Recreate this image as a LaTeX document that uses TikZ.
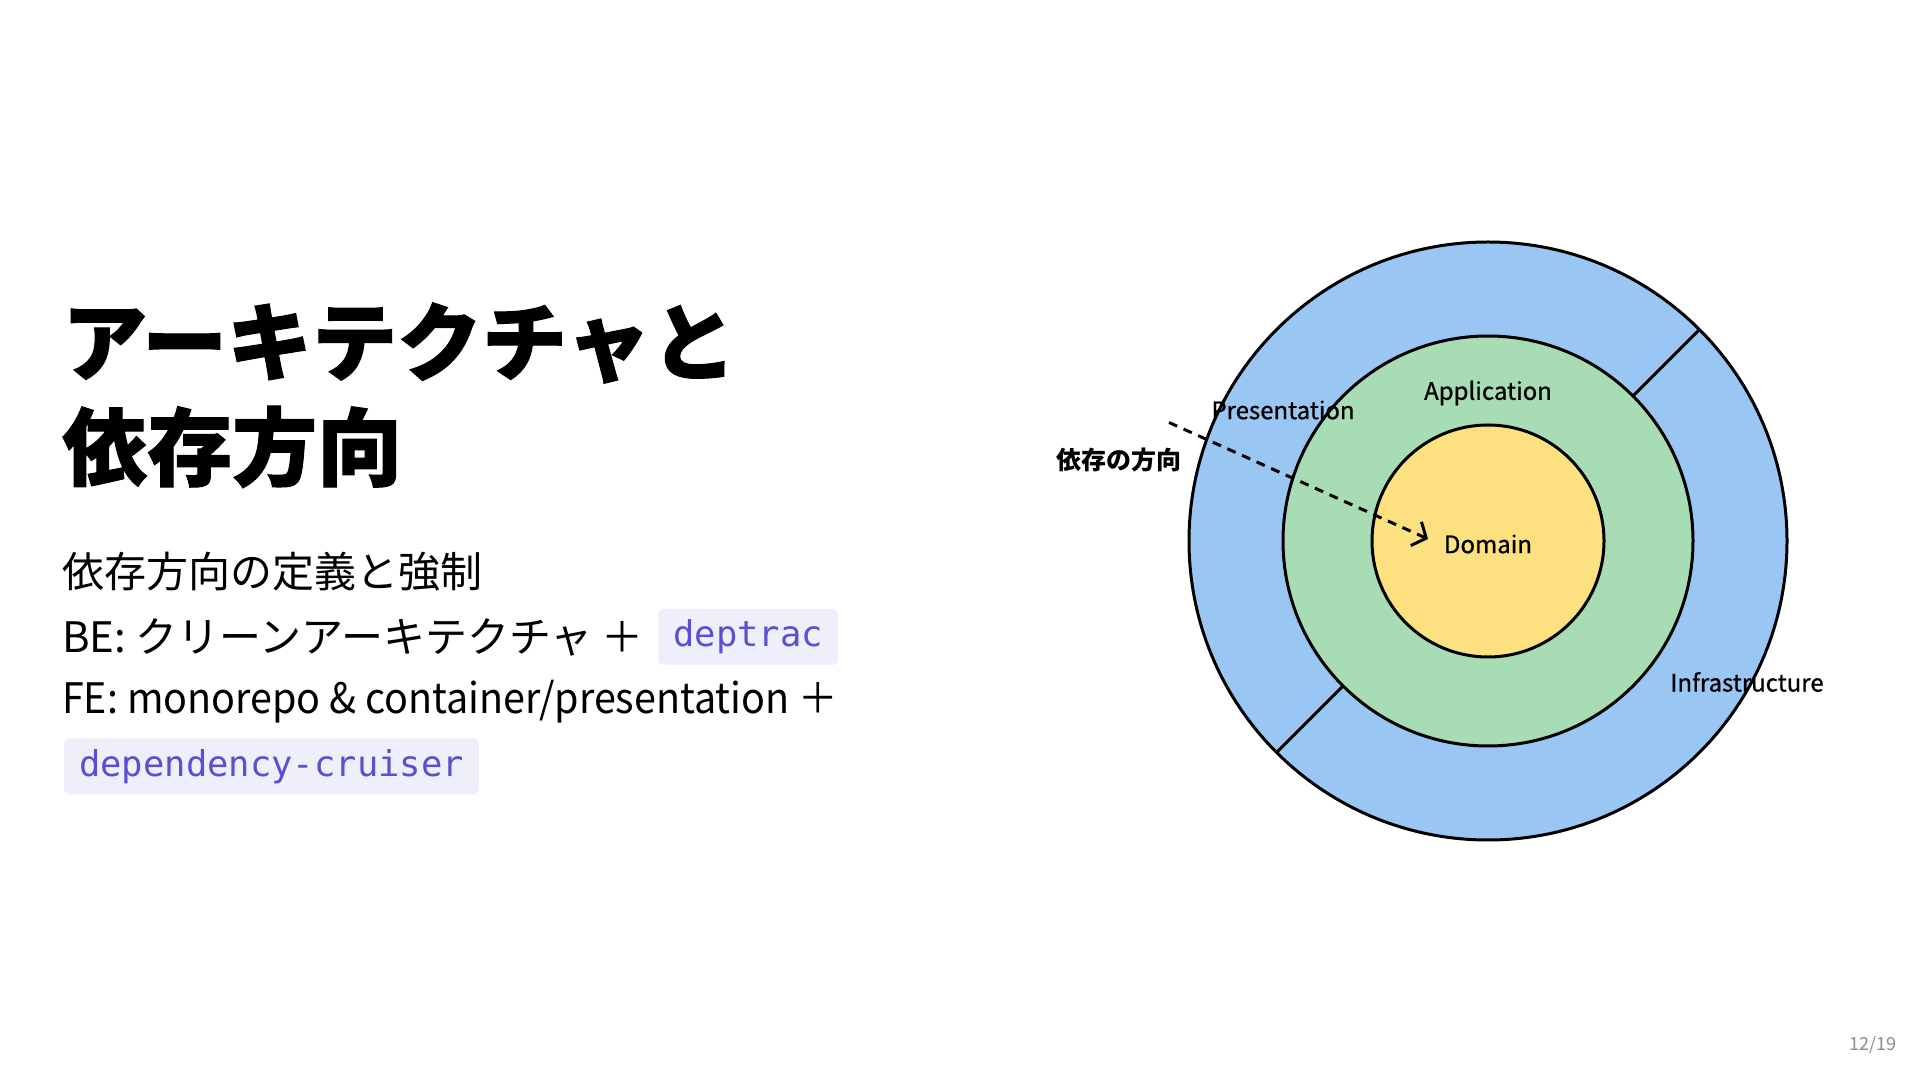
\documentclass[tikz,border=0pt]{standalone}
\usepackage{fontspec}
\setmainfont{Noto Sans CJK JP}
\setmonofont{DejaVu Sans Mono}
\newfontfamily\narrowfont[FakeStretch=0.94]{Noto Sans CJK JP}
\usepackage{xcolor}
\usetikzlibrary{arrows.meta, positioning, calc}
\definecolor{presblue}{HTML}{9AC6F3}
\definecolor{appgreen}{HTML}{A8DCB4}
\definecolor{domyellow}{HTML}{FDE07F}
\definecolor{codefill}{HTML}{EFEFFC}
\definecolor{codetext}{HTML}{5A4FCF}
\tikzset{
  heading/.style={anchor=west, inner sep=0pt, font=\fontsize{85}{96}\selectfont\bfseries\addfontfeature{FakeBold=1.2}},
  bodyline/.style={anchor=west, inner sep=0pt, font=\fontsize{42}{50}\selectfont},
  codebox/.style={rectangle, rounded corners=5pt, fill=codefill, text=codetext, minimum height=56pt, inner xsep=15pt, inner ysep=0pt, font=\fontsize{35.5}{40}\selectfont\ttfamily},
  ring/.style={circle, draw=black, line width=3pt, inner sep=0pt, outer sep=0pt},
  layerlabel/.style={font=\fontsize{24}{28}\selectfont\addfontfeature{FakeBold=0.8}},
  divider/.style={draw=black, line width=3pt},
  arrow/.style={line width=3pt, dash pattern=on 9pt off 7pt, -{Straight Barb[length=11pt, width=26pt]}},
  pagenum/.style={text=gray!90, font=\fontsize{18}{20}\selectfont}
}
\begin{document}
\begin{tikzpicture}[x=1pt, y=1pt]
\fill[white] (0,0) rectangle (1920,1080);
\useasboundingbox (0,0) rectangle (1920,1080);
% Title and bullet lines
\node[heading] (title1) at (62,737) {アーキテクチャと};
\node[heading] (title2) at (62,633) {依存方向};
\node[bodyline] (rule) at (62,508) {依存方向の定義と強制};
\node[bodyline] (be) at (62,443) {BE: クリーンアーキテクチャ ＋};
\node[codebox, right=14pt of be] (deptrac) {deptrac};
\node[bodyline, font=\fontsize{42}{50}\narrowfont] (fe) at (62,378) {FE: monorepo \& container/presentation ＋};
\node[codebox, anchor=west] (cruiser) at (64,313.5) {dependency-cruiser};

% Layers - concentric rings
\node[ring, fill=presblue, minimum size=598pt] (outer) at (1488,539) {};
\node[ring, fill=appgreen, minimum size=410pt] (app) at (outer.center) {};
\node[ring, fill=domyellow, minimum size=232pt] (dom) at (outer.center) {};
\draw[divider] (app.45) -- (outer.45);
\draw[divider] (app.225) -- (outer.225);

\node[layerlabel] (pres) at (1283,670) {Presentation};
\node[layerlabel] (appl) at (1488,687) {Application};
\node[layerlabel] (doml) at (1488,536) {Domain};
\node[layerlabel] (infra) at (1747,398) {Infrastructure};
\node[layerlabel, font=\fontsize{25}{28}\selectfont\bfseries] (dir) at (1119,620) {依存の方向};

\coordinate (depstart) at (1169,657.5);
\coordinate (depend) at (1428,541);
\draw[arrow] (depstart) -- (depend);

\node[pagenum] (page) at (1873,35.5) {12/19};
\end{tikzpicture}
\end{document}
